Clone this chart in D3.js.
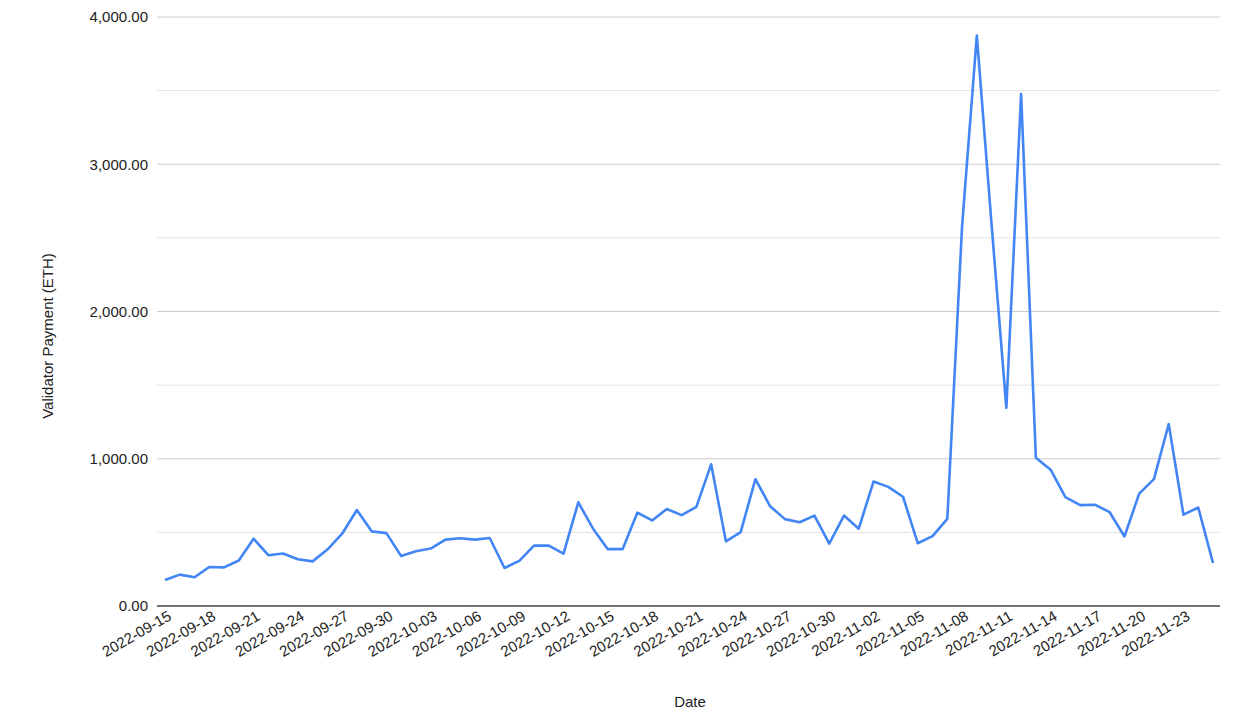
<!DOCTYPE html>
<html>
<head>
<meta charset="utf-8">
<script src="https://cdn.jsdelivr.net/npm/d3@7"></script>
<style>
  html, body { margin: 0; padding: 0; background: #ffffff; }
  svg { display: block; font-family: "Liberation Sans", Arial, sans-serif; }
</style>
</head>
<body>
<script>
const dates = [
  "2022-09-15","2022-09-16","2022-09-17","2022-09-18","2022-09-19","2022-09-20","2022-09-21","2022-09-22",
  "2022-09-23","2022-09-24","2022-09-25","2022-09-26","2022-09-27","2022-09-28","2022-09-29","2022-09-30",
  "2022-10-01","2022-10-02","2022-10-03","2022-10-04","2022-10-05","2022-10-06","2022-10-07","2022-10-08",
  "2022-10-09","2022-10-10","2022-10-11","2022-10-12","2022-10-13","2022-10-14","2022-10-15","2022-10-16",
  "2022-10-17","2022-10-18","2022-10-19","2022-10-20","2022-10-21","2022-10-22","2022-10-23","2022-10-24",
  "2022-10-25","2022-10-26","2022-10-27","2022-10-28","2022-10-29","2022-10-30","2022-10-31","2022-11-01",
  "2022-11-02","2022-11-03","2022-11-04","2022-11-05","2022-11-06","2022-11-07","2022-11-08","2022-11-09",
  "2022-11-10","2022-11-11","2022-11-12","2022-11-13","2022-11-14","2022-11-15","2022-11-16","2022-11-17",
  "2022-11-18","2022-11-19","2022-11-20","2022-11-21","2022-11-22","2022-11-23","2022-11-24","2022-11-25"
];
const payments = [
  177, 213, 195, 265, 262, 309, 457, 345,
  356, 318, 303, 383, 491, 652, 507, 495,
  339, 372, 390, 451, 460, 451, 462, 258,
  307, 410, 410, 356, 704, 525, 386, 386,
  634, 581, 659, 617, 673, 962, 439, 502,
  861, 677, 590, 569, 614, 424, 614, 525,
  845, 809, 742, 426, 475, 592, 2578, 3874,
  2590, 1346, 3477, 1007, 926, 739, 685, 688,
  637, 472, 763, 862, 1236, 620, 669, 292
];
const xTickLabels = [
  "2022-09-15","2022-09-18","2022-09-21","2022-09-24","2022-09-27","2022-09-30","2022-10-03","2022-10-06",
  "2022-10-09","2022-10-12","2022-10-15","2022-10-18","2022-10-21","2022-10-24","2022-10-27","2022-10-30",
  "2022-11-02","2022-11-05","2022-11-08","2022-11-11","2022-11-14","2022-11-17","2022-11-20","2022-11-23"
];
const yTicks = [0, 1000, 2000, 3000, 4000];
const yGrid = [500, 1000, 1500, 2000, 2500, 3000, 3500, 4000];
const yTitle = "Validator Payment (ETH)";
const xTitle = "Date";

const W = 1260, H = 719;
const plot = { left: 157, right: 1220, top: 17, bottom: 606 };

const svg = d3.select("body").append("svg").attr("width", W).attr("height", H);
svg.append("rect").attr("width", W).attr("height", H).attr("fill", "#ffffff");

const x = d3.scalePoint().domain(dates).range([165, 1213]);
const y = d3.scaleLinear().domain([0, 4000]).range([plot.bottom, plot.top]);

// gridlines
svg.append("g").selectAll("line").data(yGrid).join("line")
  .attr("x1", plot.left).attr("x2", plot.right)
  .attr("y1", d => y(d)).attr("y2", d => y(d))
  .attr("stroke", d => d % 1000 === 0 ? "#cccccc" : "#e2e2e2")
  .attr("stroke-width", 1);

// y axis labels
const fmt = d3.format(",.2f");
const yAxis = d3.axisLeft(y).tickValues(yTicks).tickFormat(fmt).tickSize(0).tickPadding(9);
const yg = svg.append("g").attr("transform", `translate(${plot.left},0)`).call(yAxis);
yg.select(".domain").remove();
yg.selectAll("text").attr("font-size", 15).attr("fill", "#222222")
  .attr("font-family", "'Liberation Sans', Arial, sans-serif");

// line
const line = d3.line().x((d, i) => x(dates[i])).y(d => y(d));
svg.append("path").datum(payments)
  .attr("d", line)
  .attr("fill", "none")
  .attr("stroke", "#4285f4")
  .attr("stroke-width", 2.6)
  .attr("stroke-linejoin", "round");

// x baseline
svg.append("line")
  .attr("x1", plot.left).attr("x2", plot.right)
  .attr("y1", plot.bottom).attr("y2", plot.bottom)
  .attr("stroke", "#444444").attr("stroke-width", 1.6);

// x tick labels
const xAxis = d3.axisBottom(x).tickValues(xTickLabels).tickSize(0).tickPadding(0);
const xg = svg.append("g").attr("transform", `translate(0,${plot.bottom})`).call(xAxis);
xg.select(".domain").remove();
xg.selectAll("text")
  .attr("font-size", 15)
  .attr("fill", "#222222")
  .attr("font-family", "'Liberation Sans', Arial, sans-serif")
  .attr("text-anchor", "end")
  .attr("dy", "0")
  .attr("y", 0)
  .attr("transform", "translate(7,13) rotate(-30)");

// titles
svg.append("text")
  .attr("transform", `translate(53,336) rotate(-90)`)
  .attr("text-anchor", "middle")
  .attr("font-size", 15)
  .attr("fill", "#222222")
  .text(yTitle);

svg.append("text")
  .attr("x", 690).attr("y", 707)
  .attr("text-anchor", "middle")
  .attr("font-size", 15)
  .attr("fill", "#222222")
  .text(xTitle);
</script>
</body>
</html>
